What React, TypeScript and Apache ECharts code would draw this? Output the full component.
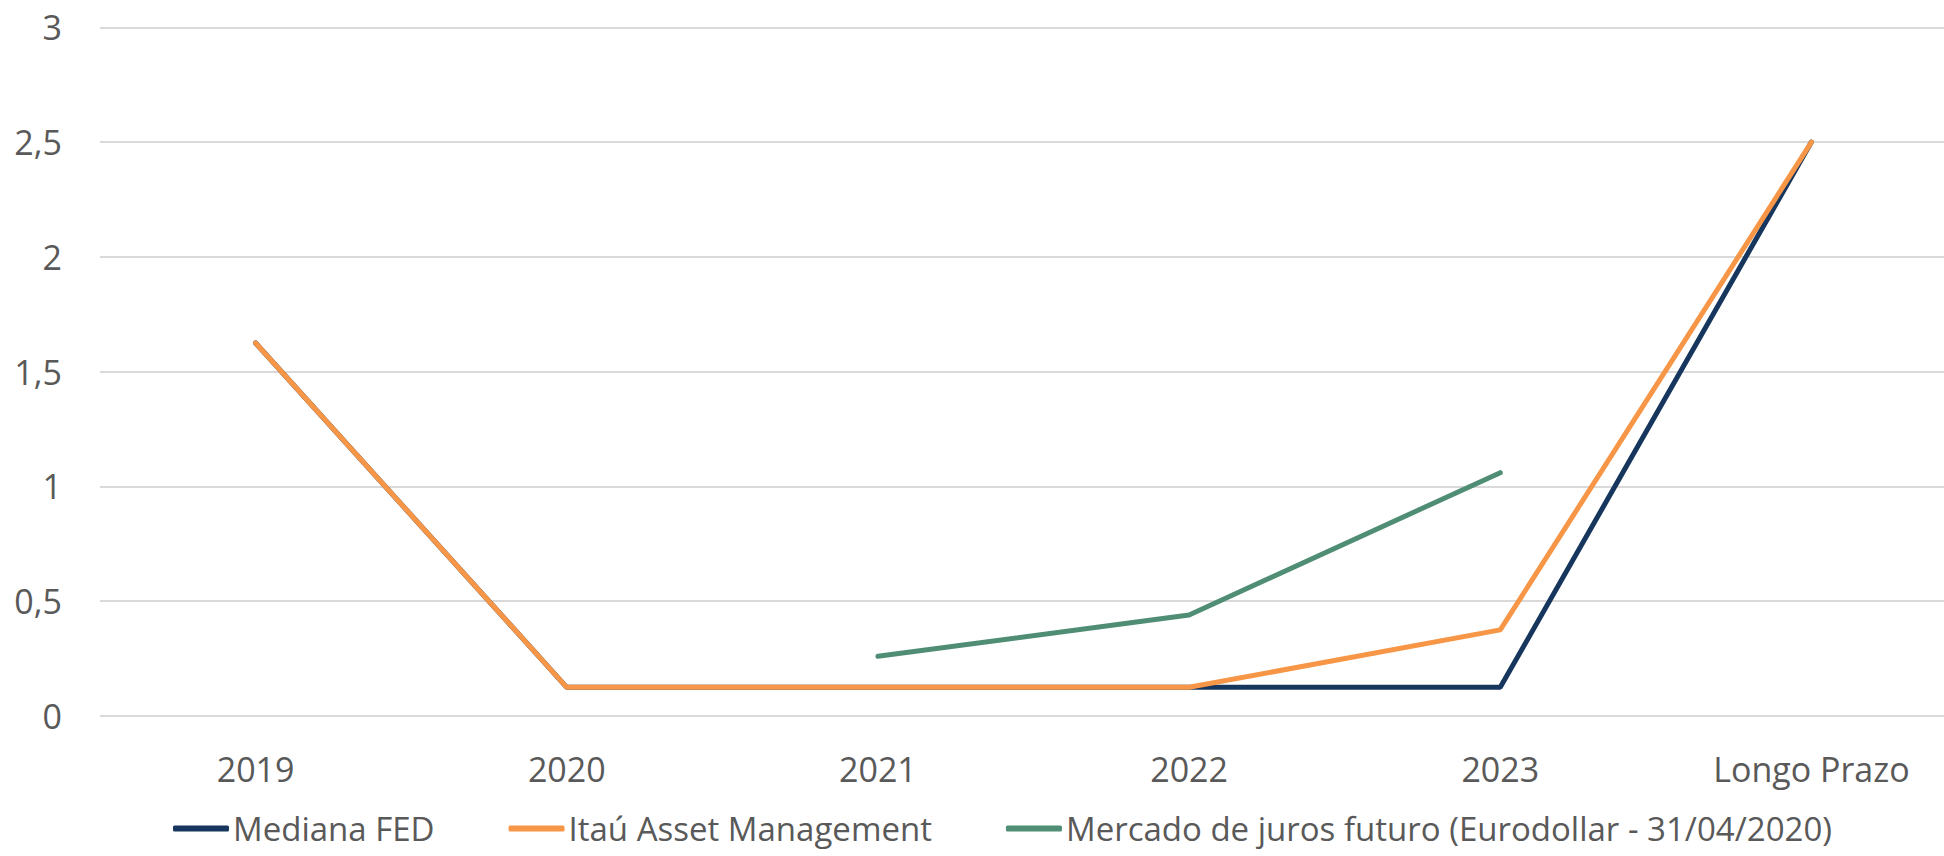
import React, { useEffect, useRef } from "react";
import * as echarts from "echarts";

const categories = ["2019", "2020", "2021", "2022", "2023", "Longo Prazo"];
const medianaFed = [1.625, 0.125, 0.125, 0.125, 0.125, 2.5];
const itauAsset = [1.625, 0.125, 0.125, 0.125, 0.375, 2.5];
const mercadoJuros: (number | string)[] = ["-", "-", 0.26, 0.44, 1.06, "-"];
const seriesNames = [
  "Mediana FED",
  "Itaú Asset Management",
  "Mercado de juros futuro (Eurodollar - 31/04/2020)",
];
const colors = ["#17365d", "#f79646", "#4f8e74"];

const FONT = "'Open Sans', sans-serif";
const TEXT = "#595959";

export default function App() {
  const ref = useRef<HTMLDivElement>(null);
  useEffect(() => {
    if (!ref.current) return;
    const chart = echarts.init(ref.current, null, { renderer: "svg" });
    const mk = (name: string, data: any[], color: string) => ({
      name,
      type: "line",
      data,
      showSymbol: false,
      symbol: "none",
      connectNulls: false,
      lineStyle: { color, width: 5, cap: "round" },
      itemStyle: { color },
      emphasis: { disabled: true },
    });
    chart.setOption({
      animation: false,
      color: colors,
      grid: { left: 100, top: 27.3, width: 1867, height: 688.7 },
      legend: {
        left: 173,
        top: 812,
        padding: 0,
        icon: "roundRect",
        itemWidth: 56,
        itemHeight: 6,
        itemGap: 74,
        textStyle: { fontFamily: FONT, fontSize: 33, color: TEXT, lineHeight: 33, padding: [0, 0, 0, -1] },
        data: seriesNames,
      },
      xAxis: {
        type: "category",
        data: categories,
        boundaryGap: true,
        axisLine: { show: false },
        axisTick: { show: false },
        axisLabel: { fontFamily: FONT, fontSize: 34, color: TEXT, margin: 36 },
        splitLine: { show: false },
      },
      yAxis: {
        type: "value",
        min: 0,
        max: 3,
        interval: 0.5,
        axisLine: { show: false },
        axisTick: { show: false },
        axisLabel: {
          fontFamily: FONT,
          fontSize: 34,
          color: TEXT,
          margin: 38,
          formatter: (v: number) => String(v).replace(".", ","),
        },
        splitLine: { lineStyle: { color: "#d9d9d9", width: 2 } },
      },
      series: [
        mk(seriesNames[0], medianaFed, colors[0]),
        mk(seriesNames[1], itauAsset, colors[1]),
        mk(seriesNames[2], mercadoJuros, colors[2]),
      ],
    });
    return () => chart.dispose();
  }, []);
  return (
    <div
      style={{ position: "absolute", left: 0, top: 0, width: 1944, height: 856, overflow: "hidden", background: "#fff" }}
    >
      <div ref={ref} style={{ width: 1990, height: 856 }} />
    </div>
  );
}
